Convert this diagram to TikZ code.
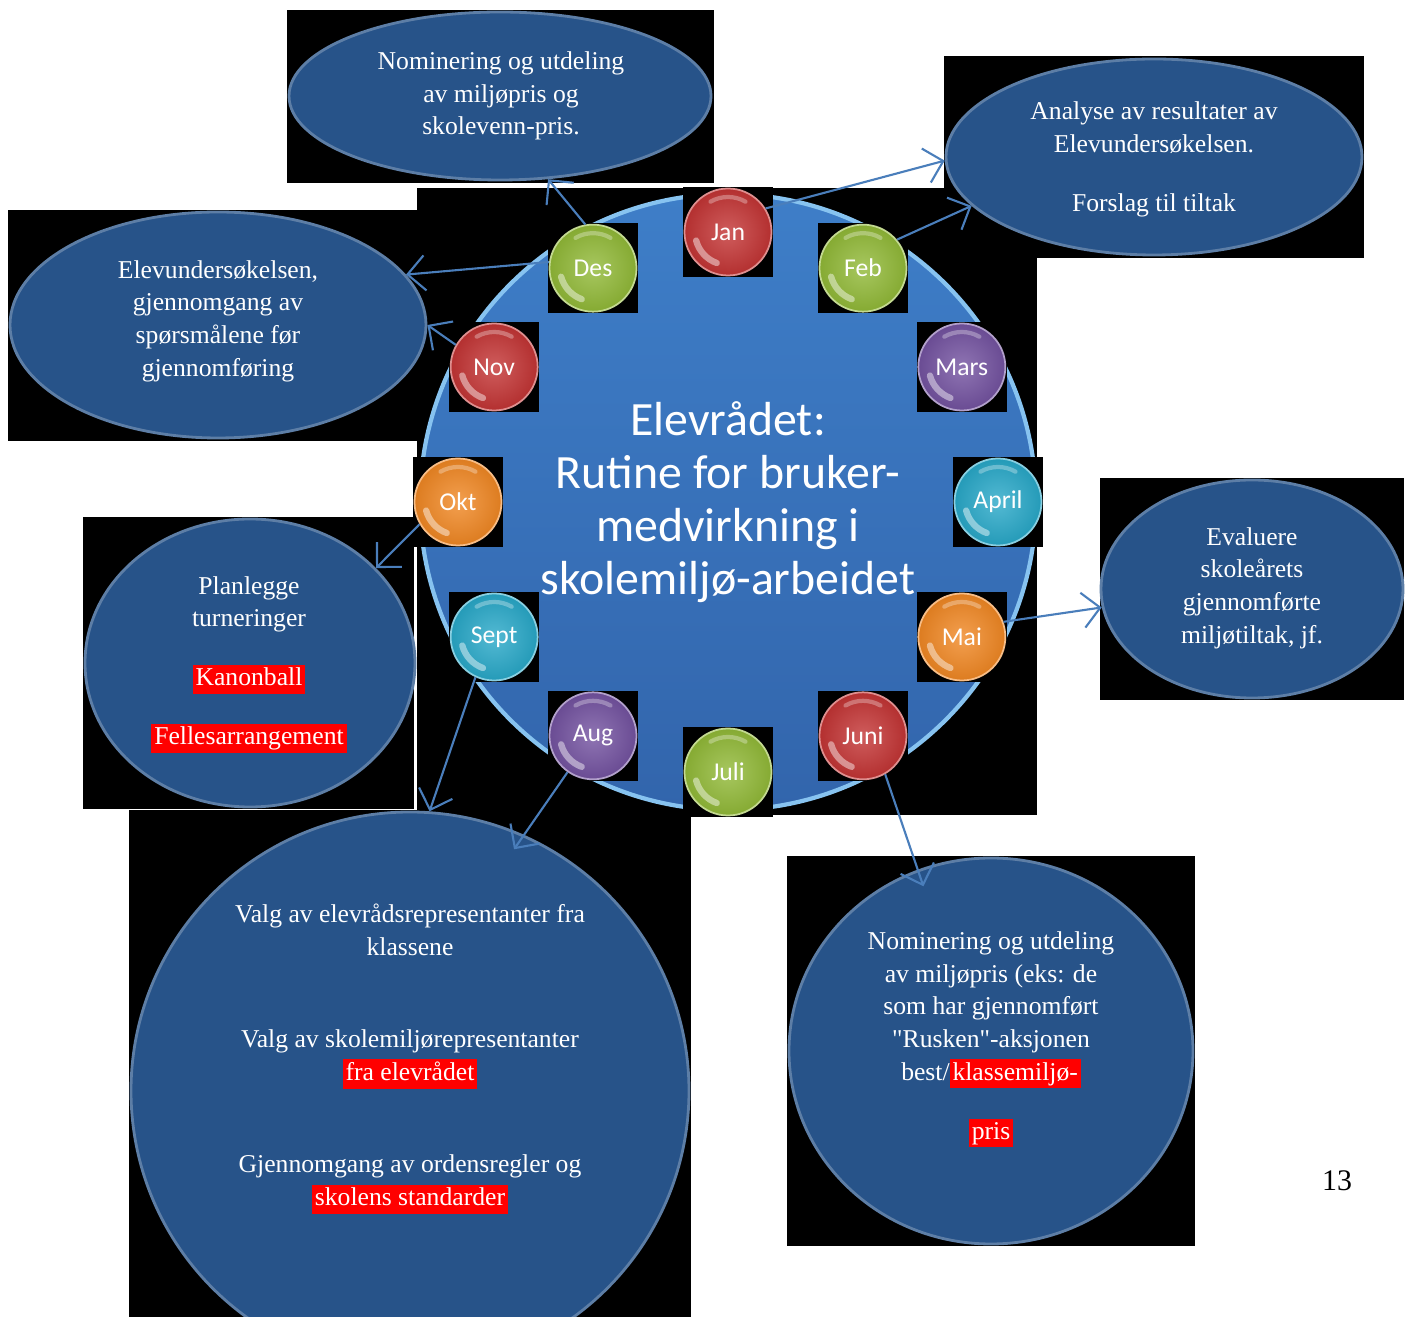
\documentclass[tikz,border=0pt]{standalone}
\usepackage{fontspec}
\setmainfont{Liberation Serif}[Ligatures=TeXOff]
\newfontfamily\calibri{Carlito}
\usepackage{tikz}
\usetikzlibrary{arrows.meta,positioning,shapes.geometric}

\definecolor{ellblue}{RGB}{39,83,137}
\definecolor{hubtop}{RGB}{62,126,200}
\definecolor{hubbot}{RGB}{50,101,172}
\definecolor{hubrim}{RGB}{135,195,240}
\definecolor{linkblue}{RGB}{74,126,187}
\definecolor{bred}{RGB}{195,52,52}
\definecolor{bgreen}{RGB}{145,185,55}
\definecolor{bpurple}{RGB}{115,82,160}
\definecolor{bcyan}{RGB}{40,168,200}
\definecolor{borange}{RGB}{240,135,35}

\newcommand{\hlred}[1]{{\setlength{\fboxsep}{0.8pt}\colorbox{red}{\vphantom{Kj}#1}}}

\tikzset{
  backdrop/.style={fill=black},
  bubble/.style={circle, minimum size=0.87cm, inner sep=0pt,
    shading=radial, inner color=#1!80!white, outer color=#1!92!black,
    draw=#1!55!white, line width=0.5pt, text=white,
    font=\calibri\fontsize{7.3}{8}\selectfont,
    path picture={\draw[white, opacity=.45, line width=1.8pt, line cap=round]
      ([shift={(195:0.33)}]path picture bounding box.center) arc[start angle=195, end angle=250, radius=0.33];
      \draw[white, opacity=.3, line width=1.2pt, line cap=round]
      ([shift={(60:0.35)}]path picture bounding box.center) arc[start angle=60, end angle=120, radius=0.35];}},
  blob/.style={ellipse, fill=ellblue, draw=ellblue!75!white, line width=0.8pt, inner sep=0pt},
  boxtext/.style={align=center, text=white, font=\fontsize{7.3}{9.3}\selectfont},
  link/.style={draw=linkblue, line width=0.6pt}
}

\begin{document}
\begin{tikzpicture}[>={Straight Barb[length=5pt,width=10pt]}]
    \useasboundingbox[fill=white] (0,0) rectangle (14.05,-13.17);

    \fill[backdrop] (2.87,-0.10) rectangle (7.14,-1.83);
    \fill[backdrop] (9.44,-0.56) rectangle (13.64,-2.58);
    \fill[backdrop] (0.08,-2.10) rectangle (4.28,-4.41);
    \fill[backdrop] (0.83,-5.17) rectangle (4.14,-8.09);
    \fill[backdrop] (1.29,-8.10) rectangle (6.91,-13.17);
    \fill[backdrop] (7.87,-8.56) rectangle (11.95,-12.46);
    \fill[backdrop] (11.00,-4.78) rectangle (14.04,-7.00);
    \fill[backdrop] (4.17,-1.88) rectangle (10.37,-8.15);

    \node[blob, minimum width=4.22cm, minimum height=1.68cm] (prize) at (5.00,-0.96) {};
    \node[blob, minimum width=4.16cm, minimum height=1.96cm] (analysis) at (11.54,-1.57) {};
    \node[blob, minimum width=4.16cm, minimum height=2.26cm] (survey) at (2.18,-3.25) {};
    \node[blob, minimum width=3.30cm, minimum height=2.88cm] (plan) at (2.50,-6.63) {};
    \begin{scope}
        \clip (1.29,-8.10) rectangle (6.91,-13.17);
        \node[blob, minimum width=5.58cm, minimum height=5.58cm] (elect) at (4.10,-10.91) {};
    \end{scope}
    \node[blob, minimum width=4.04cm, minimum height=3.86cm] (award) at (9.91,-10.51) {};
    \node[blob, minimum width=3.02cm, minimum height=2.18cm] (evaluate) at (12.52,-5.89) {};

    \node[circle, minimum size=6.16cm, shading=axis, top color=hubtop, bottom color=hubbot,
        draw=hubrim, line width=1.2pt, text=white, align=center,
        font=\calibri\fontsize{13.6}{15.1}\selectfont] (hub) at (7.28,-5.02)
        {Elevrådet:\\Rutine for bruker-\\medvirkning i\\skolemiljø-arbeidet};

    \foreach \n/\m/\c [count=\i from 0] in {jan/Jan/bred, feb/Feb/bgreen, mars/Mars/bpurple,
        april/April/bcyan, mai/Mai/borange, juni/Juni/bred, juli/Juli/bgreen, aug/Aug/bpurple,
        sept/Sept/bcyan, okt/Okt/borange, nov/Nov/bred, des/Des/bgreen}{
        \pgfmathsetmacro\a{90-30*\i}
        \fill[backdrop] ([shift={(\a:2.7)}]hub.center) ++(-0.45,-0.45) rectangle ++(0.9,0.9);
        \node[bubble=\c] (\n) at ([shift={(\a:2.7)}]hub.center) {\m};
    }

    \draw[link,->] (jan.32) -- (analysis.181);
    \draw[link,->] (feb.40) -- (analysis.195);
    \draw[link,->] (des.100) -- (prize.-60);
    \draw[link,->] (des.172) -- (survey.15);
    \draw[link,->] (nov.150) -- (survey.0);
    \draw[link,->] (okt.210) -- (plan.37);
    \draw[link,->] (sept.245) -- (elect.86);
    \draw[link,->,shorten >=-5pt] (aug.235) -- (elect.66);
    \draw[link,->] (mai.20) -- (evaluate.187);
    \draw[link,->,shorten >=-5pt] (juni.300) -- (award.112);

    \node[boxtext] (prizetext) at (5.01,-0.96) {Nominering og utdeling\\av miljøpris og\\skolevenn-pris.};
    \node[boxtext] (analysistext) at (11.54,-1.595) {Analyse av resultater av\\Elevundersøkelsen.\\[7.7pt]Forslag til tiltak};
    \node[boxtext] (surveytext) at (2.18,-3.21) {Elevundersøkelsen,\\gjennomgang av\\spørsmålene før\\gjennomføring};
    \node[boxtext] (plantext) at (2.49,-6.645) {Planlegge\\turneringer\\[7.4pt]\hlred{Kanonball}\\[7.4pt]\hlred{Fellesarrangement}};
    \node[boxtext] (electtext) at (4.10,-10.59) {Valg av elevrådsrepresentanter fra\\klassene\\[17pt]Valg av skolemiljørepresentanter\\\hlred{fra elevrådet}\\[17pt]Gjennomgang av ordensregler og\\\hlred{skolens standarder}};
    \node[boxtext] (awardtext) at (9.91,-10.395) {Nominering og utdeling\\av miljøpris (eks: de\\som har gjennomført\\"Rusken"-aksjonen\\best/\hlred{klassemiljø-}\\[7.5pt]\hlred{pris}};
    \node[boxtext] (evaluatetext) at (12.52,-5.88) {Evaluere\\skoleårets\\gjennomførte\\miljøtiltak, jf.};
    \node[font=\fontsize{8.5}{10}\selectfont] (pagenum) at (13.37,-11.81) {13};
\end{tikzpicture}
\end{document}
